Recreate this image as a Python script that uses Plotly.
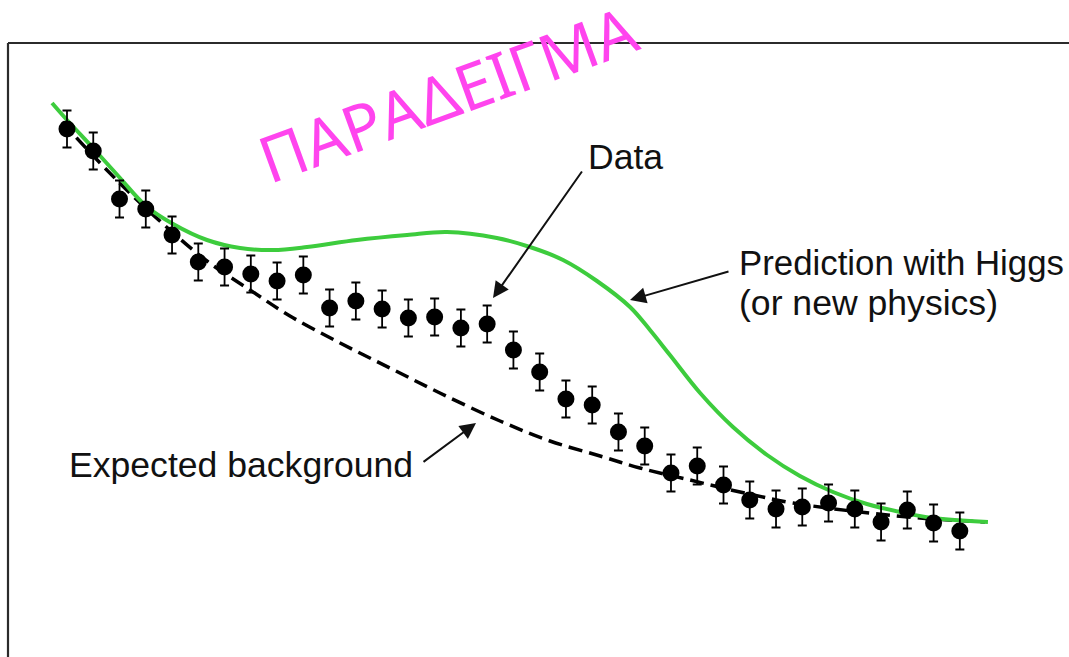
import plotly.graph_objects as go

# ---- measured histogram (bin index, counts, uncertainty) ----
bins = list(range(1, 36))
counts = [105.6, 101.2, 91.6, 89.6, 84.4, 79.0, 78.0, 76.6, 75.2, 76.4,
          69.8, 71.2, 69.6, 67.8, 68.0, 65.8, 66.6, 61.4, 57.0, 51.6,
          50.4, 45.0, 42.2, 36.8, 38.2, 34.4, 31.4, 29.6, 30.0, 30.8,
          29.6, 27.0, 29.4, 26.8, 25.2]
errors = [3.7, 3.7, 3.7, 3.7, 3.7, 3.7, 3.7, 3.7, 3.7, 3.7,
          3.7, 3.7, 3.7, 3.7, 3.7, 3.7, 3.7, 3.7, 3.7, 3.7,
          3.7, 3.7, 3.7, 3.7, 3.7, 3.7, 3.7, 3.7, 3.7, 3.7,
          3.7, 3.7, 3.7, 3.7, 3.7]

# ---- expected background (no signal) ----
bkg_x = [0.81, 2.26, 3.51, 4.92, 6.33, 7.97, 9.49, 11.40, 13.30, 15.20,
         17.49, 19.39, 21.30, 22.82, 24.72, 26.63, 28.65, 31.20, 33.48, 35.96]
bkg_y = [107.0, 98.8, 92.2, 85.4, 79.2, 73.4, 68.2, 62.8, 57.8, 52.8,
         47.2, 43.2, 40.2, 37.8, 35.4, 33.0, 30.8, 29.0, 27.8, 27.0]

# ---- prediction including a signal ----
sig_x = [0.43, 1.00, 1.99, 3.02, 4.01, 5.04, 6.33, 7.59, 8.84, 10.14,
         12.04, 13.95, 15.47, 17.37, 18.63, 19.89, 21.18, 22.44, 23.20, 23.96,
         25.11, 26.36, 27.66, 28.91, 30.17, 31.46, 32.72, 33.98, 36.07]
sig_y = [110.8, 107.4, 101.8, 95.8, 90.2, 86.6, 83.4, 81.8, 81.4, 82.0,
         83.4, 84.4, 85.0, 83.8, 82.0, 79.4, 75.2, 70.0, 65.4, 60.4,
         52.8, 46.0, 40.4, 36.2, 33.0, 30.6, 29.0, 27.8, 27.0]

W, H = 1069, 657


def fx(p):
    return p / W


def fy(p):
    return 1 - p / H


fig = go.Figure()

fig.add_trace(go.Scatter(
    x=bkg_x, y=bkg_y, mode="lines", line_shape="spline",
    line=dict(color="black", width=3.5, dash="14px,7px"),
    hoverinfo="skip", showlegend=False))

fig.add_trace(go.Scatter(
    x=sig_x, y=sig_y, mode="lines", line_shape="spline",
    line=dict(color="#3dcc3d", width=4),
    hoverinfo="skip", showlegend=False))

fig.add_trace(go.Scatter(
    x=bins, y=counts, mode="markers",
    marker=dict(color="black", size=17, line=dict(width=0)),
    error_y=dict(type="data", array=errors, visible=True,
                 color="black", thickness=1.8, width=4.5),
    showlegend=False))

label_font = dict(family="Liberation Sans, Arial, Helvetica, sans-serif",
                  size=35.6, color="#111111")
pred_font = dict(label_font, size=34.8)
arrow_style = dict(showarrow=True, arrowhead=2, arrowsize=1.6,
                   arrowwidth=2, arrowcolor="#111111", text="",
                   xref="paper", yref="paper", standoff=0)

annotations = [
    dict(text="Data", x=fx(586), y=fy(157), xanchor="left", yanchor="middle",
         xref="paper", yref="paper", showarrow=False, font=label_font),
    dict(text="Prediction with Higgs", x=fx(737), y=fy(262), xanchor="left",
         yanchor="middle", xref="paper", yref="paper", showarrow=False,
         font=pred_font),
    dict(text="(or new physics)", x=fx(737), y=fy(303), xanchor="left",
         yanchor="middle", xref="paper", yref="paper", showarrow=False,
         font=label_font),
    dict(text="Expected background", x=fx(67), y=fy(465), xanchor="left",
         yanchor="middle", xref="paper", yref="paper", showarrow=False,
         font=label_font),
    dict(x=fx(493), y=fy(298), ax=90, ay=-128, **arrow_style),
    dict(x=fx(630), y=fy(300), ax=100, ay=-29, **arrow_style),
    dict(x=fx(476), y=fy(423), ax=-54, ay=40, **arrow_style),
    dict(text="ΠΑΡΑΔΕΙΓΜΑ", x=fx(447), y=fy(93), xanchor="center",
         yanchor="middle", xref="paper", yref="paper", showarrow=False,
         textangle=-20,
         font=dict(family="Noto Sans, DejaVu Sans, sans-serif", size=64,
                   color="#ff44ee")),
]

shapes = [
    dict(type="line", xref="paper", yref="paper", x0=fx(8), x1=fx(8),
         y0=fy(43), y1=-0.05, line=dict(color="#2b2b2b", width=2.2)),
    dict(type="line", xref="paper", yref="paper", x0=fx(8), x1=1.05,
         y0=fy(43), y1=fy(43), line=dict(color="#2b2b2b", width=2.2)),
]

x_lo = 1 - 67 / 26.26
x_hi = 1 + (W - 67) / 26.26

fig.update_layout(
    width=W, height=H, autosize=False,
    margin=dict(l=0, r=0, t=0, b=0, pad=0),
    paper_bgcolor="white", plot_bgcolor="white",
    xaxis=dict(range=[x_lo, x_hi], visible=False, fixedrange=True),
    yaxis=dict(range=[0, H / 5], visible=False, fixedrange=True),
    annotations=annotations, shapes=shapes,
)

fig.write_html("out.html")
